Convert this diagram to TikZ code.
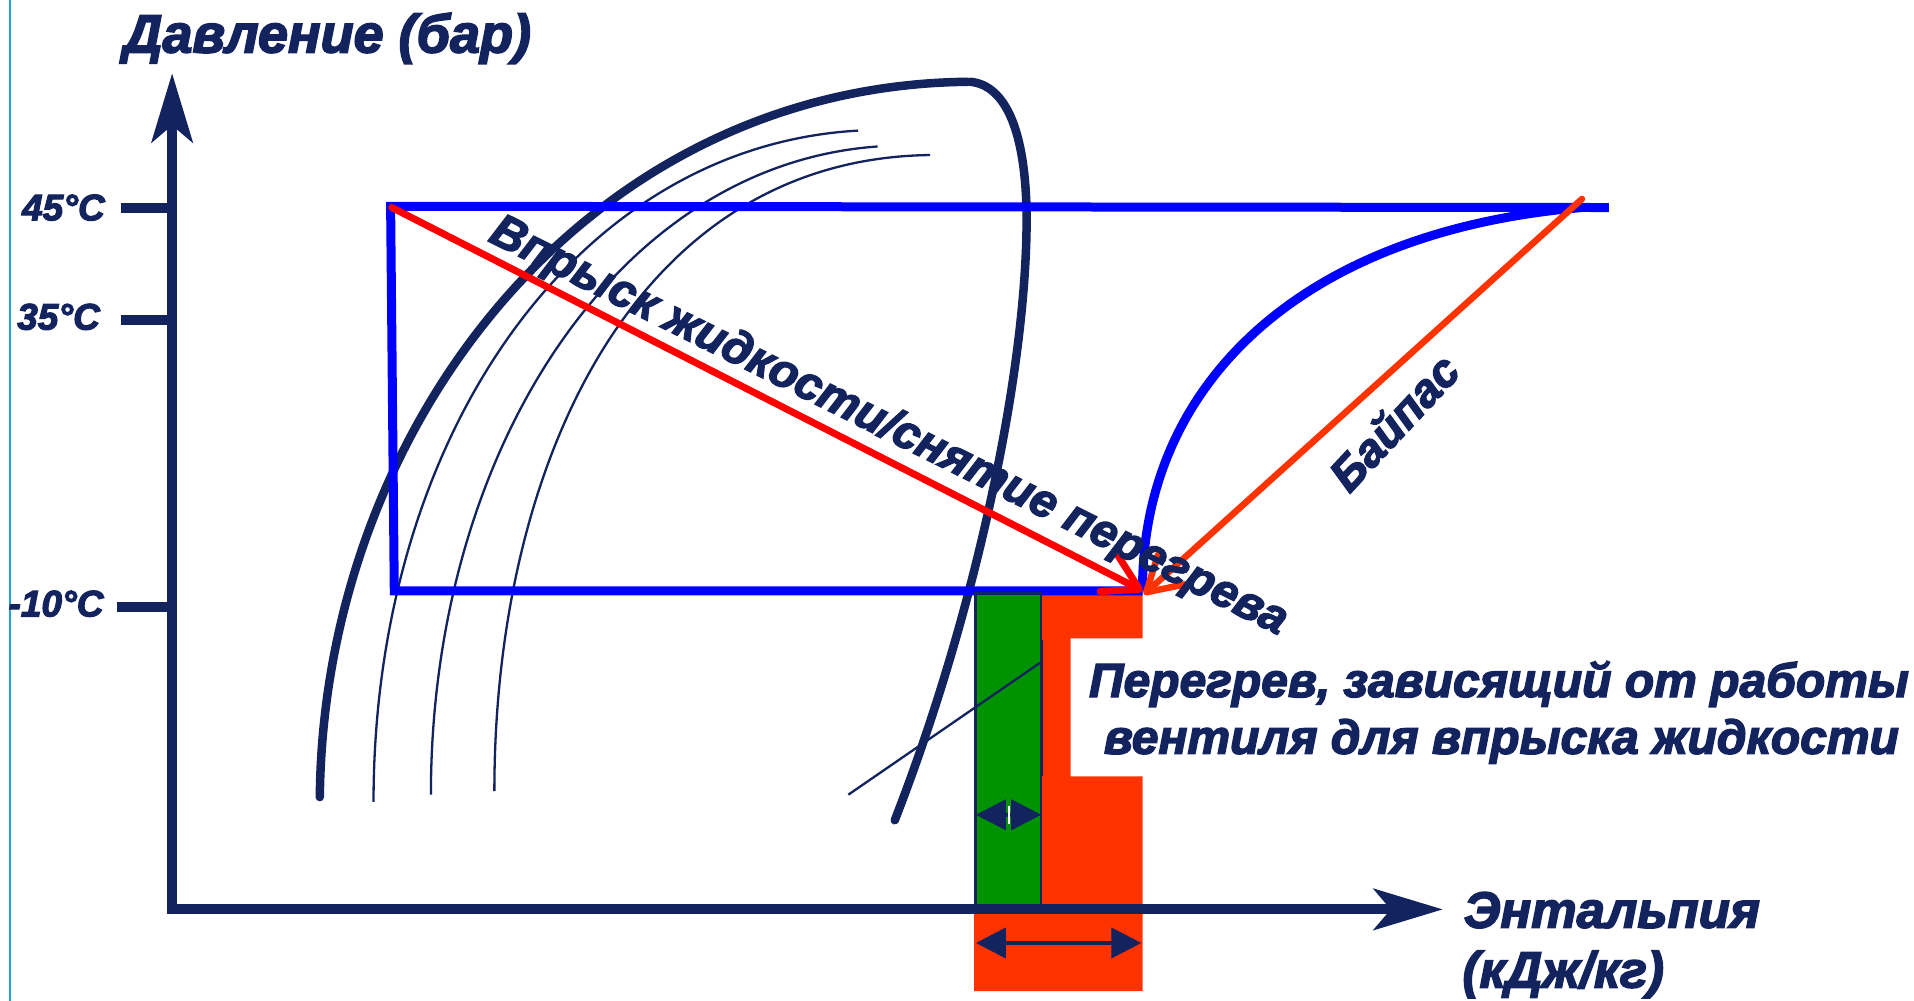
\documentclass[tikz,border=0pt]{standalone}
\usepackage{fontspec}
\setmainfont{Liberation Sans}[BoldItalicFeatures={FakeBold=3}]
\usetikzlibrary{arrows.meta}
\definecolor{navy}{RGB}{18,35,94}
\definecolor{cycblue}{RGB}{0,0,255}
\definecolor{injred}{RGB}{255,0,0}
\definecolor{bypassred}{RGB}{255,51,0}
\definecolor{supgreen}{RGB}{0,146,0}
\definecolor{edgecyan}{RGB}{30,165,225}
\tikzset{axistip/.tip={Stealth[length=69pt,width=41pt,inset=17pt]}}
\begin{document}
\begin{tikzpicture}[x=1.2207pt,y=-1.2207pt,
  lbl/.style={text=navy,inner sep=0pt,font=\bfseries\itshape\fontsize{#1}{#1}\selectfont},
  axisline/.style={draw=navy,line width=10pt},
  ticklines/.style={draw=navy,line width=10pt},
  domeline/.style={draw=navy,line width=8.5pt,line cap=round},
  isoline/.style={draw=navy,line width=2.3pt},
  cycleline/.style={draw=cycblue,line width=9pt},
  injarrow/.style={draw=injred,line width=7pt,line cap=round,-{Straight Barb[length=34pt,width=40pt,round]}},
  byparrow/.style={draw=bypassred,line width=6.5pt,line cap=round,-{Straight Barb[length=34pt,width=40pt,round]}},
  dimarrow/.style={draw=navy,line width=4pt,{Triangle[length=30pt,width=30pt]}-{Triangle[length=30pt,width=30pt]}}
]
\path[use as bounding box] (0,0) rectangle (1568,820);
\fill[white] (0,0) rectangle (1568,820);
% left edge line
\draw[edgecyan,line width=2pt] (8,0) -- (8,820);

% saturation dome
\draw[domeline] (262,653) .. controls (265,350) and (480,70) .. (793,67);
\draw[domeline] (795,67) .. controls (825,70) and (840,110) .. (841,175)
                .. controls (842,300) and (800,500) .. (733,672);
% thin isotherm curves
\draw[isoline] (306,657) .. controls (306,360) and (470,120) .. (703,107);
\draw[isoline] (353,651) .. controls (353,370) and (505,135) .. (719,120);
\draw[isoline] (405,648) .. controls (405,380) and (520,130) .. (762,127);

% superheat band (orange)
\fill[bypassred] (798,486) -- (936,486) -- (936,523) -- (877,523) -- (877,636) -- (936,636) -- (936,812) -- (798,812) -- cycle;

% refrigeration cycle (blue)
\coordinate (A) at (320,169);
\coordinate (B) at (323,484);
\coordinate (C) at (936,484);
\coordinate (D) at (1318,170);
\coordinate (E) at (1296,170);
\draw[cycleline,line join=miter] (D) -- (A) -- (B) -- (C);
\draw[cycleline] (C) .. controls (935,320) and (1060,190) .. (E);

% green band
\fill[supgreen,draw=navy,line width=2.5pt] (799,486) rectangle (853,745);
\draw[navy,line width=3pt] (853,524) -- (853,636);
% thin diagonal line
\coordinate (L1) at (695,651);
\coordinate (L2) at (852,543);
\draw[isoline] (L1) -- (L2);

% dimension arrows
\coordinate (G1) at (799.5,667.5);
\coordinate (G2) at (853,667.5);
\draw[dimarrow] (G1) -- (G2);
\draw[white,line width=1.6pt] (826.5,660) -- (826.5,675);
\coordinate (O1) at (799.5,772.5);
\coordinate (O2) at (935,772.5);
\draw[dimarrow] (O1) -- (O2);

% axes
\coordinate (Ytip) at (141,60);
\coordinate (Orig) at (141,745);
\coordinate (Xtip) at (1182,745);
\draw[axisline,line join=miter,axistip-axistip] (Ytip) -- (Orig) -- (Xtip);
\draw[ticklines] (99,170) -- (141,170);
\draw[ticklines] (99,262) -- (141,262);
\draw[ticklines] (96,497) -- (141,497);

% injection and bypass arrows
\coordinate (Rs) at (321,170);
\coordinate (Rt) at (936,484);
\draw[injarrow] (Rs) -- (Rt);
\coordinate (Bs) at (1296,163);
\coordinate (Bt) at (937,487);
\draw[byparrow] (Bs) -- (Bt);

% texts
\node[lbl=54,anchor=base west] (title) at (101,43) {Давление (бар)};
\node[lbl=37,anchor=base east] (t45) at (86,180.5) {45°C};
\node[lbl=37,anchor=base east] (t35) at (82,270) {35°C};
\node[lbl=37,anchor=base east] (t10) at (85,505) {-10°C};
\node[lbl=47,text height=33.6pt,text depth=0pt,anchor=center,rotate=-26.5] (inj) at (729.5,346.5) {Впрыск жидкости/снятие перегрева};
\node[lbl=46,text height=26pt,text depth=0pt,anchor=center,rotate=47] (byp) at (1144,348) {Байпас};
\node[lbl=48,anchor=base] (sh1) at (1228,571) {Перегрев, зависящий от работы};
\node[lbl=48,anchor=base] (sh2) at (1230,617.5) {вентиля для впрыска жидкости};
\node[lbl=51,anchor=base west] (xl1) at (1199,760) {Энтальпия};
\node[lbl=51,anchor=base west] (xl2) at (1198,809) {(кДж/кг)};
\end{tikzpicture}
\end{document}
